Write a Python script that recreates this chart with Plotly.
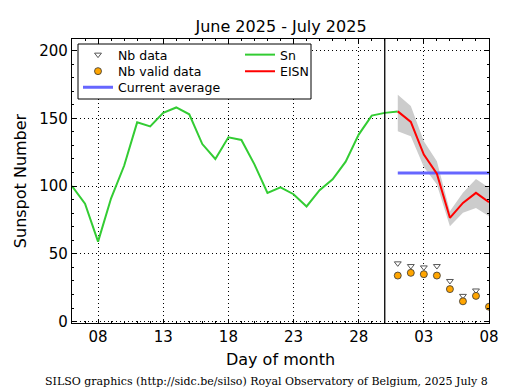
import plotly.graph_objects as go
import pandas as pd

# ---- data ----
sn_dates = pd.date_range("2025-06-06", "2025-07-01", freq="D").strftime("%Y-%m-%d").tolist()
sn_values = [100, 87, 59, 91, 115, 147, 144, 154, 158, 153, 131, 120, 136, 134,
             116, 95, 99, 94, 85, 97, 105, 118, 138, 152, 154, 155]

eisn_dates = pd.date_range("2025-07-01", "2025-07-08", freq="D").strftime("%Y-%m-%d").tolist()
eisn_values = [155.1, 147.3, 123.2, 109.2, 76.6, 87.6, 95.0, 88.1]
eisn_upper = [167.4, 159.1, 133.0, 118.3, 81.4, 95.0, 105.3, 98.7]
eisn_lower = [140.4, 136.7, 114.1, 101.1, 70.4, 80.3, 83.9, 77.8]

nb_data_dates = eisn_dates[:7]
nb_data = [43, 41, 40, 41, 30, 19, 23]
nb_valid_dates = eisn_dates
nb_valid = [34, 36, 35, 34, 24, 15, 19, 11]

current_avg_dates = [eisn_dates[0], eisn_dates[-1]]
current_avg = [109.7, 109.7]

month_end = "2025-06-30"
x_range = ["2025-06-06", "2025-07-08"]
y_range = [-1, 208.5]

title_text = "June 2025 - July 2025"
footer_text = "SILSO graphics (http://sidc.be/silso) Royal Observatory of Belgium, 2025 July 8"

FONT = "DejaVu Sans"

fig = go.Figure()

# uncertainty band
fig.add_trace(go.Scatter(
    x=eisn_dates + eisn_dates[::-1],
    y=eisn_upper + eisn_lower[::-1],
    fill="toself", fillcolor="#cccccc", line=dict(width=0),
    mode="lines", showlegend=False, hoverinfo="skip"))

fig.add_trace(go.Scatter(
    x=nb_data_dates, y=nb_data, mode="markers", name="Nb data",
    marker=dict(symbol="triangle-down", size=6, color="white",
                line=dict(color="#555555", width=1)),
    legend="legend"))
fig.add_trace(go.Scatter(
    x=nb_valid_dates, y=nb_valid, mode="markers", name="Nb valid data",
    marker=dict(symbol="circle", size=7, color="#FFA500",
                line=dict(color="#333333", width=0.8)),
    legend="legend2"))
fig.add_trace(go.Scatter(
    x=current_avg_dates, y=current_avg, mode="lines", name="Current average",
    line=dict(color="#6666ff", width=3), legend="legend3"))
fig.add_trace(go.Scatter(
    x=sn_dates, y=sn_values, mode="lines", name="Sn",
    line=dict(color="#33cc33", width=2), legend="legend4"))
fig.add_trace(go.Scatter(
    x=eisn_dates, y=eisn_values, mode="lines", name="EISN",
    line=dict(color="#ff0000", width=2), legend="legend5"))

# page body has an 8px margin: work in window pixels, shift by O
O = 8
W, H = 515 - O, 390 - O
L, R, T, B = 72 - O, 489 - O, 39 - O, 323 - O
pw, ph = R - L, B - T

def px(xw):
    return (xw - O - L) / pw

def py(yw):
    return (B - (yw - O)) / ph

fig.add_shape(type="line", xref="x", yref="paper", x0=month_end, x1=month_end,
              y0=0, y1=1, line=dict(color="black", width=1.3))
# legend frame
fig.add_shape(type="rect", xref="paper", yref="paper",
              x0=px(78), x1=px(311), y0=py(99), y1=py(44),
              line=dict(color="black", width=1), fillcolor="white", layer="above")

def leg(xw, yw):
    return dict(x=px(xw), y=py(yw), bgcolor="rgba(0,0,0,0)", borderwidth=0,
                font=dict(family=FONT, size=12.5, color="black"),
                xanchor="left", yanchor="middle", tracegroupgap=0)

grid_dash = "1px,3px"

fig.update_layout(
    width=W, height=H,
    margin=dict(l=L, r=W - R, t=T, b=H - B, autoexpand=False),
    paper_bgcolor="white", plot_bgcolor="white",
    font=dict(family=FONT, color="black"),
    title=dict(text=title_text, x=(px(281) * pw + L) / W, xanchor="center",
               y=1 - (26 - O) / H, yanchor="middle",
               font=dict(family=FONT, size=16, color="black")),
    legend=leg(78, 55),
    legend2=leg(78, 71.5),
    legend3=leg(78, 87.5),
    legend4=leg(240, 55),
    legend5=leg(240, 71.5),
    xaxis=dict(
        type="date", range=x_range, automargin=False,
        tick0="2025-06-08", dtick=5 * 86400000, tickformat="%d",
        ticks="inside", ticklen=4, tickcolor="black",
        minor=dict(dtick=86400000, ticks="inside", ticklen=2, tickcolor="black",
                   showgrid=False),
        showline=True, linecolor="black", linewidth=1.3, mirror="allticks",
        showgrid=True, gridcolor="black", griddash=grid_dash, gridwidth=1,
        tickfont=dict(family=FONT, size=15, color="black"),
        title=dict(text="Day of month", font=dict(family=FONT, size=16, color="black"),
                   standoff=8),
        zeroline=False,
    ),
    yaxis=dict(
        range=y_range, tick0=0, dtick=50, automargin=False,
        ticks="inside", ticklen=4, tickcolor="black",
        minor=dict(dtick=10, ticks="inside", ticklen=2, tickcolor="black",
                   showgrid=False),
        showline=True, linecolor="black", linewidth=1.3, mirror="allticks",
        showgrid=True, gridcolor="black", griddash=grid_dash, gridwidth=1,
        tickfont=dict(family=FONT, size=15, color="black"),
        title=dict(text="Sunspot Number", font=dict(family=FONT, size=16, color="black"),
                   standoff=8),
        zeroline=False,
    ),
    annotations=[dict(
        text=footer_text, xref="paper", yref="paper",
        x=px(266), y=py(381), xanchor="center", yanchor="middle",
        showarrow=False, font=dict(family="DejaVu Serif", size=11, color="black"))],
)

fig.write_html("out.html")
